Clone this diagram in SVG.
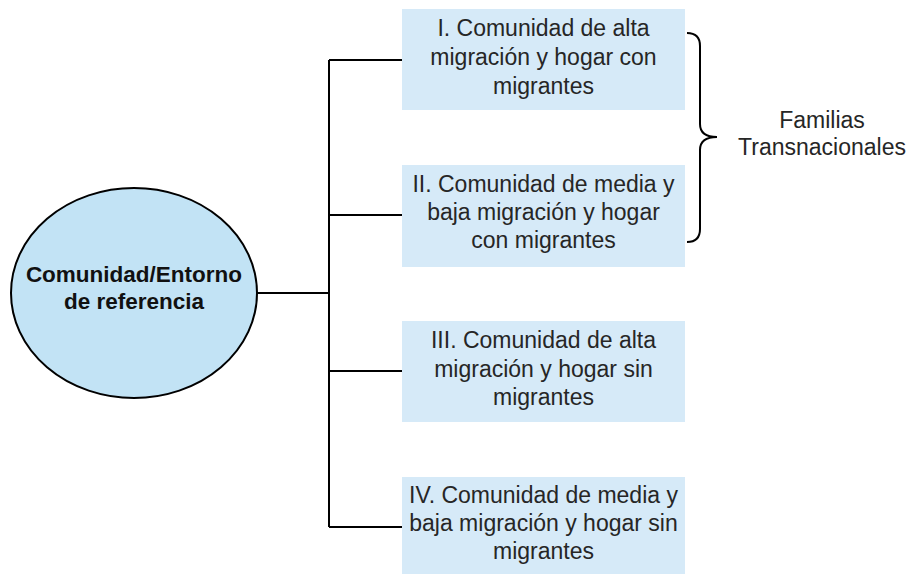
<svg xmlns="http://www.w3.org/2000/svg" width="909" height="574" viewBox="0 0 909 574">
<style>
.box{fill:#d6eaf8;stroke:none}
.t{font-family:"Liberation Sans",Arial,sans-serif;font-size:23px;fill:#262626;text-anchor:middle}
.b{font-weight:bold;font-size:22.5px;fill:#111}
.ln{fill:none;stroke:#000;stroke-width:2}
</style>
<rect width="909" height="574" fill="#fff"/>
<g id="connectors">
<path class="ln" d="M257 293H329M329 60V527M329 60H402M329 215H402M329 371H402M329 527H402"/>
</g>
<g id="root">
<ellipse cx="134" cy="293" rx="123" ry="105" fill="#c2e3f5" stroke="#000" stroke-width="2"/>
<text class="t b" x="134" y="282">Comunidad/Entorno</text>
<text class="t b" x="134" y="309">de referencia</text>
</g>
<g id="n1">
<rect class="box" x="402" y="9" width="283" height="101"/>
<text class="t" x="543.5" y="36">I. Comunidad de alta</text>
<text class="t" x="543.5" y="65">migración y hogar con</text>
<text class="t" x="543.5" y="94">migrantes</text>
</g>
<g id="n2">
<rect class="box" x="402" y="165" width="283" height="102"/>
<text class="t" x="543.5" y="192">II. Comunidad de media y</text>
<text class="t" x="543.5" y="220">baja migración y hogar</text>
<text class="t" x="543.5" y="248">con migrantes</text>
</g>
<g id="n3">
<rect class="box" x="402" y="321" width="283" height="101"/>
<text class="t" x="543.5" y="348">III. Comunidad de alta</text>
<text class="t" x="543.5" y="377">migración y hogar sin</text>
<text class="t" x="543.5" y="405">migrantes</text>
</g>
<g id="n4">
<rect class="box" x="402" y="477" width="283" height="97"/>
<text class="t" x="543.5" y="503">IV. Comunidad de media y</text>
<text class="t" x="543.5" y="531">baja migración y hogar sin</text>
<text class="t" x="543.5" y="559">migrantes</text>
</g>
<g id="brace">
<path class="ln" d="M687 33Q700 33 700 46V124Q700 137 717 137Q700 137 700 150V229Q700 242 687 242"/>
<text class="t" x="822" y="128">Familias</text>
<text class="t" x="822" y="155">Transnacionales</text>
</g>
</svg>
